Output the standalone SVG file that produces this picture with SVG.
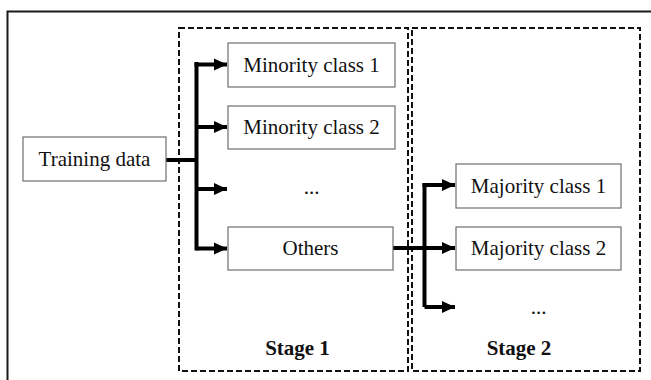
<svg xmlns="http://www.w3.org/2000/svg" width="651" height="380" viewBox="0 0 651 380">
<defs>
<style>
.box{fill:#fff;stroke:#6e6e6e;stroke-width:1.2}
.stage{fill:none;stroke:#111;stroke-width:2;stroke-dasharray:6 3}
.t{font-family:"Liberation Serif","Times New Roman",serif;font-size:21px;fill:#111;text-anchor:middle}
.b{font-weight:bold}
.c{fill:none;stroke:#000;stroke-width:4}
</style>
<marker id="ah" markerUnits="userSpaceOnUse" markerWidth="14" markerHeight="14" viewBox="0 0 14 14" refX="13" refY="7" orient="auto">
<path d="M0,1 L13,7 L0,13 Z" fill="#000"/>
</marker>
</defs>
<rect width="651" height="380" fill="#fff"/>
<path d="M7.5,380 V11.5 H651" fill="none" stroke="#1a1a1a" stroke-width="2"/>
<g id="stage1"><rect class="stage" x="179" y="28" width="229" height="343"/><text class="t b" x="297.5" y="355">Stage 1</text></g>
<g id="stage2"><rect class="stage" x="412" y="28" width="228" height="343"/><text class="t b" x="519" y="355">Stage 2</text></g>
<g id="connectors">
<path class="c" d="M166,160 H196.5 M196.5,62 V250.5"/>
<path class="c" d="M194.5,64.5 H227" marker-end="url(#ah)"/>
<path class="c" d="M196.5,127 H227" marker-end="url(#ah)"/>
<path class="c" d="M196.5,189 H227" marker-end="url(#ah)"/>
<path class="c" d="M196.5,248.5 H227" marker-end="url(#ah)"/>
<path class="c" d="M393,248 H455" marker-end="url(#ah)"/>
<path class="c" d="M424.5,183 V307"/>
<path class="c" d="M422.5,185 H455" marker-end="url(#ah)"/>
<path class="c" d="M424.5,307 H455" marker-end="url(#ah)"/>
</g>
<g id="training"><rect class="box" x="23" y="137" width="143" height="44"/><text class="t" x="94.5" y="166">Training data</text></g>
<g id="min1"><rect class="box" x="228" y="43" width="167" height="44"/><text class="t" x="311.5" y="72">Minority class 1</text></g>
<g id="min2"><rect class="box" x="228" y="106" width="167" height="43"/><text class="t" x="311.5" y="134">Minority class 2</text></g>
<g id="mindots"><text class="t" x="311.5" y="194">...</text></g>
<g id="others"><rect class="box" x="228" y="227" width="165" height="43"/><text class="t" x="310.5" y="255">Others</text></g>
<g id="maj1"><rect class="box" x="456" y="164" width="165" height="44"/><text class="t" x="538.5" y="193">Majority class 1</text></g>
<g id="maj2"><rect class="box" x="456" y="227" width="165" height="43"/><text class="t" x="538.5" y="255">Majority class 2</text></g>
<g id="majdots"><text class="t" x="538.5" y="314">...</text></g>
</svg>
